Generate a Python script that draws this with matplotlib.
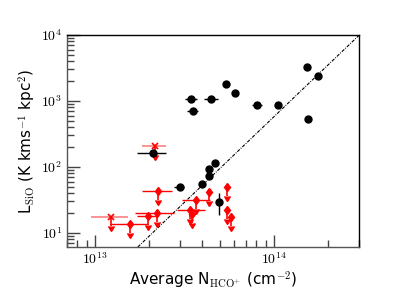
import numpy as np
import matplotlib
matplotlib.use("Agg")
import matplotlib.pyplot as plt
import matplotlib.lines as mlines
from matplotlib.ticker import FuncFormatter

plt.rcParams['mathtext.fontset'] = 'cm'

# Detections (black)
det_x = [3.43e13, 3.52e13, 4.45e13, 5.4e13, 6.05e13, 8.03e13, 1.05e14, 1.53e14,
         1.76e14, 1.55e14, 2.11e13, 2.98e13, 4.0e13, 4.33e13, 4.33e13, 4.68e13, 4.93e13]
det_y = [1075, 705, 1075, 1810, 1320, 870, 870, 3270,
         2390, 533, 163, 49.8, 55, 73, 93, 115, 29.5]
det_xlo = [3.18e13, 3.26e13, 4.07e13, 5.4e13, 6.05e13, 7.6e13, 1.05e14, 1.53e14,
           1.76e14, 1.55e14, 1.72e13, 2.76e13, 4.0e13, 4.33e13, 4.33e13, 4.68e13, 4.93e13]
det_xhi = [3.72e13, 3.76e13, 4.87e13, 5.4e13, 6.05e13, 8.6e13, 1.05e14, 1.53e14,
           1.76e14, 1.55e14, 2.49e13, 3.14e13, 4.0e13, 4.33e13, 4.33e13, 4.68e13, 4.93e13]
det_ylo = [1075, 705, 1075, 1810, 1320, 870, 870, 3270,
           2390, 533, 163, 49.8, 55, 73, 93, 115, 18.8]
det_yhi = [1075, 705, 1075, 1810, 1320, 870, 870, 3270,
           2390, 533, 163, 49.8, 55, 73, 93, 115, 40.0]

# Upper limits (red diamonds)
ul_x = [1.57e13, 1.98e13, 2.22e13, 2.25e13, 3.66e13, 3.40e13, 3.48e13, 4.34e13, 5.46e13, 5.46e13, 5.75e13]
ul_y = [13.7, 18.1, 20.1, 43.3, 31.6, 22.3, 19.4, 41.8, 49.8, 22.3, 17.5]
ul_xlo = [1.21e13, 1.72e13, 1.67e13, 1.83e13, 3.06e13, 2.87e13, 3.48e13, 4.34e13, 5.46e13, 5.46e13, 5.75e13]
ul_xhi = [1.98e13, 2.22e13, 2.76e13, 2.69e13, 4.39e13, 4.12e13, 3.48e13, 4.34e13, 5.46e13, 5.46e13, 5.75e13]

# Upper limits (red crosses)
xl_x = [2.16e13, 1.24e13]
xl_y = [208, 17.5]
xl_xlo = [1.83e13, 9.5e12]
xl_xhi = [2.49e13, 1.53e13]

# Reference line endpoints
line_x = [1.74e13, 3.3e14]
line_y = [6.1, 1.27e4]

arrow_frac = 0.27

fig = plt.figure(figsize=(3.99, 2.99), dpi=100)
ax = fig.add_axes([0.168, 0.174, 0.732, 0.709])
ax.set_xscale('log')
ax.set_yscale('log')

ax.plot(line_x, line_y, linestyle='-.', color='black', lw=0.8, dashes=(3, 1.2, 0.8, 1.2))

def xerr_of(x, lo, hi):
    x = np.array(x); return [x - np.array(lo), np.array(hi) - x]

def arrows(x, y, color):
    x = np.array(x); y = np.array(y)
    ytip = y * (1 - arrow_frac)
    ax.vlines(x, ytip, y, colors=color, lw=1.2, zorder=2)
    ax.plot(x, ytip, ls='none', marker=mlines.CARETDOWNBASE, color=color, ms=5, zorder=2)

dx = np.array(det_x); dy = np.array(det_y)
ax.errorbar(dx, dy, xerr=xerr_of(det_x, det_xlo, det_xhi),
            yerr=[dy - np.array(det_ylo), np.array(det_yhi) - dy],
            fmt='o', color='black', ecolor='black', ms=5, elinewidth=1.0, capsize=0, zorder=3)

ux = np.array(ul_x); uy = np.array(ul_y)
ax.errorbar(ux, uy, xerr=xerr_of(ul_x, ul_xlo, ul_xhi), fmt='none',
            ecolor='red', elinewidth=1.0, capsize=0, zorder=2)
arrows(ul_x, ul_y, 'red')
ax.plot(ux, uy, 'd', color='red', ms=4.5, zorder=3)

xx = np.array(xl_x); xy = np.array(xl_y)
ax.errorbar(xx, xy, xerr=xerr_of(xl_x, xl_xlo, xl_xhi), fmt='none',
            ecolor='red', alpha=0.5, elinewidth=1.2, capsize=0, zorder=2)
arrows(xl_x, xl_y, 'red')
ax.plot(xx, xy, 'x', color='red', ms=4.5, mew=1.2, zorder=3)

ax.set_xlim(7e12, 3e14)
ax.set_ylim(6.1, 1e4)

fmt = FuncFormatter(lambda v, p: r'$10^{%d}$' % int(round(np.log10(v))))
ax.xaxis.set_major_formatter(fmt)
ax.yaxis.set_major_formatter(fmt)

ax.tick_params(which='major', direction='in', length=9, width=1, top=False, right=False,
               labelsize=10, color='#444444')
ax.tick_params(which='minor', direction='in', length=5, width=1, top=False, right=False,
               color='#444444')
for s in ax.spines.values():
    s.set_linewidth(1.0)
ax.spines['left'].set_color('#555555')
ax.spines['bottom'].set_color('#555555')

ax.set_xlabel(r'Average N$_{\mathrm{HCO^{+}}}$ (cm$^{-2}$)', fontsize=11, labelpad=2)
ax.set_ylabel(r'L$_{\mathrm{SiO}}$ (K kms$^{-1}$ kpc$^{2}$)', fontsize=11, labelpad=2)

fig.savefig('out.png', dpi=100)
